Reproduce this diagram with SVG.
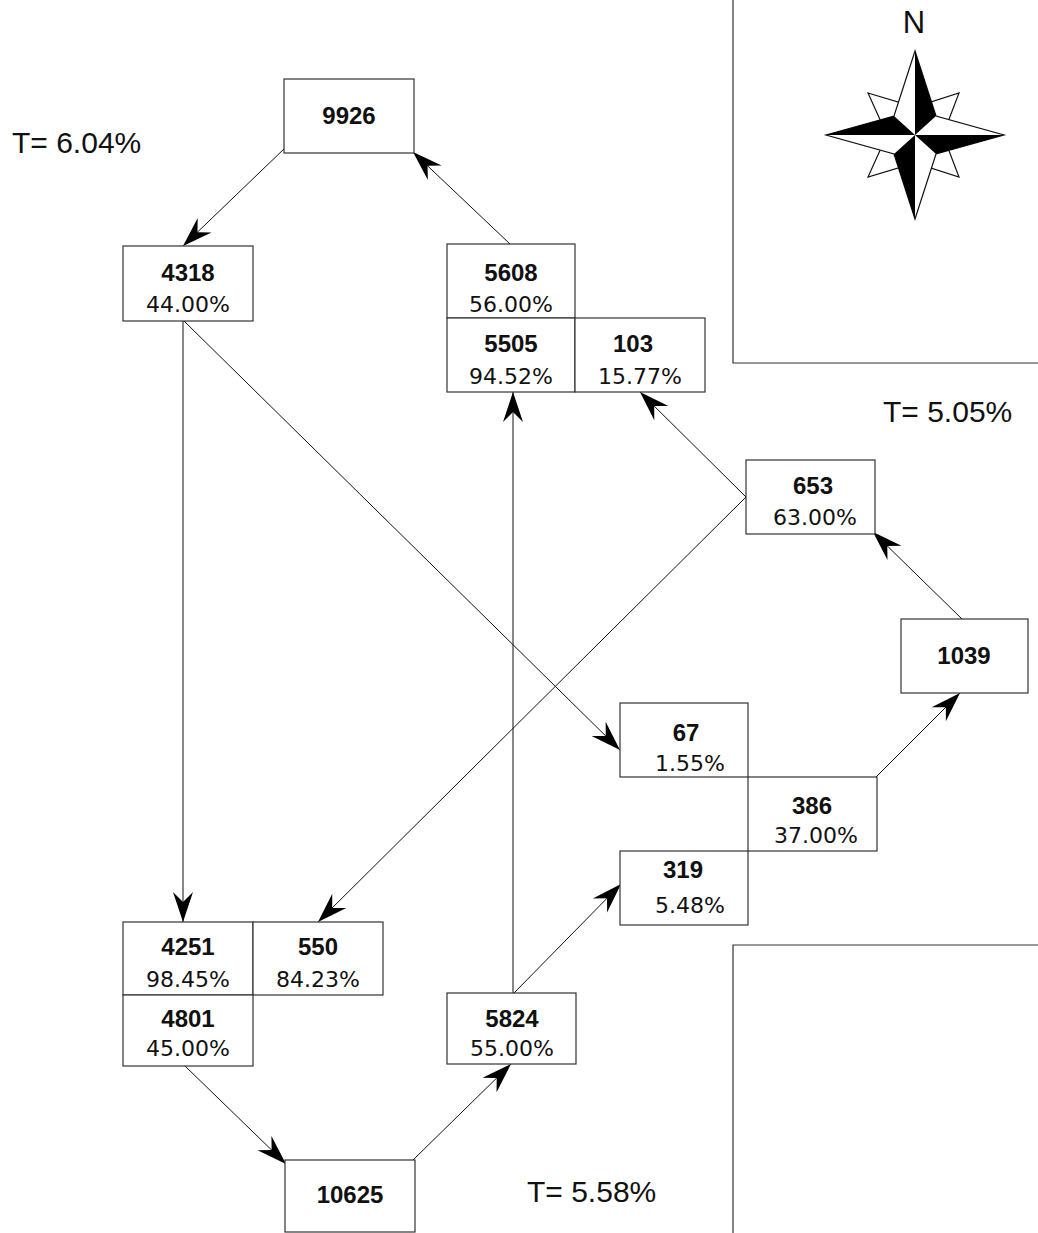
<svg xmlns="http://www.w3.org/2000/svg" width="1038" height="1233" viewBox="0 0 1038 1233">
<style>
.box{fill:#fff;stroke:#333;stroke-width:1.2}
.num{font-family:"Liberation Sans",Arial,sans-serif;font-weight:bold;font-size:24px;text-anchor:middle;fill:#111}
.pct{font-family:"DejaVu Sans",sans-serif;font-size:22px;text-anchor:middle;fill:#111}
.t{font-family:"Liberation Sans",Arial,sans-serif;font-size:30px;fill:#111}
.c{stroke:#111;stroke-width:1;fill:none;marker-end:url(#a)}
.frame{stroke:#333;stroke-width:1.2;fill:none}
</style>
<defs>
<marker id="a" markerWidth="32" markerHeight="24" refX="0" refY="0" orient="auto" markerUnits="userSpaceOnUse" viewBox="-31 -12 32 24">
<path d="M0,0 L-30,-10 L-20,0 L-30,10 Z" fill="#000"/>
</marker>
</defs>
<rect width="1038" height="1233" fill="#fff"/>
<g id="frames">
<path class="frame" d="M733,0 V363 H1038"/>
<path class="frame" d="M733,1233 V945 H1038"/>
</g>
<g id="labels">
<text class="t" x="12" y="153">T= 6.04%</text>
<text class="t" x="883" y="422">T= 5.05%</text>
<text class="t" x="527" y="1202">T= 5.58%</text>
</g>
<g id="compass">
<text x="914" y="33" font-family="Liberation Sans,sans-serif" font-size="31" text-anchor="middle" fill="#111">N</text>
<polygon points="868,93 915,107 959,93 943,135 959,177 915,163 868,177 887,135" fill="#fff" stroke="#111" stroke-width="1.2" stroke-linejoin="miter"/>
<polygon points="915,51 936,116 1004,135 936,154 915,219 894,154 826,135 894,116" fill="#fff" stroke="#111" stroke-width="1.2"/>
<polygon points="915,51 915,135 936,116" fill="#000"/>
<polygon points="1004,135 915,135 936,154" fill="#000"/>
<polygon points="826,135 915,135 894,116" fill="#000"/>
<polygon points="915,219 915,135 894,154" fill="#000"/>
</g>
<g id="connectors">
<line class="c" x1="285" y1="148" x2="183" y2="246"/>
<line class="c" x1="510" y1="244" x2="413" y2="152"/>
<line class="c" x1="183" y1="321" x2="183" y2="922"/>
<line class="c" x1="184" y1="321" x2="620" y2="750"/>
<line class="c" x1="746" y1="497" x2="640" y2="392"/>
<line class="c" x1="746" y1="497" x2="318" y2="922"/>
<line class="c" x1="962" y1="619" x2="873" y2="532"/>
<line class="c" x1="876" y1="777" x2="960" y2="693"/>
<line class="c" x1="513" y1="993" x2="513" y2="392"/>
<line class="c" x1="514" y1="993" x2="621" y2="884"/>
<line class="c" x1="185" y1="1066" x2="286" y2="1164"/>
<line class="c" x1="413" y1="1160" x2="511" y2="1064"/>
</g>
<g id="n9926"><rect class="box" x="284" y="79" width="130" height="74"/><text class="num" x="349" y="124">9926</text></g>
<g id="n4318"><rect class="box" x="123" y="246" width="130" height="75"/><text class="num" x="188" y="281">4318</text><text class="pct" x="188" y="312">44.00%</text></g>
<g id="n5608"><rect class="box" x="447" y="244" width="128" height="74"/><text class="num" x="511" y="281">5608</text><text class="pct" x="511" y="312">56.00%</text></g>
<g id="n5505"><rect class="box" x="447" y="318" width="128" height="74"/><text class="num" x="511" y="352">5505</text><text class="pct" x="511" y="384">94.52%</text></g>
<g id="n103"><rect class="box" x="575" y="318" width="130" height="74"/><text class="num" x="633" y="352">103</text><text class="pct" x="640" y="384">15.77%</text></g>
<g id="n653"><rect class="box" x="746" y="460" width="129" height="74"/><text class="num" x="813" y="494">653</text><text class="pct" x="815" y="525">63.00%</text></g>
<g id="n1039"><rect class="box" x="901" y="619" width="127" height="74"/><text class="num" x="964" y="664">1039</text></g>
<g id="n67"><rect class="box" x="620" y="703" width="128" height="74"/><text class="num" x="686" y="741">67</text><text class="pct" x="690" y="771">1.55%</text></g>
<g id="n386"><rect class="box" x="748" y="777" width="129" height="74"/><text class="num" x="812" y="814">386</text><text class="pct" x="816" y="843">37.00%</text></g>
<g id="n319"><rect class="box" x="620" y="851" width="128" height="74"/><text class="num" x="683" y="878">319</text><text class="pct" x="690" y="913">5.48%</text></g>
<g id="n4251"><rect class="box" x="123" y="922" width="130" height="73"/><text class="num" x="188" y="955">4251</text><text class="pct" x="188" y="987">98.45%</text></g>
<g id="n550"><rect class="box" x="253" y="922" width="130" height="73"/><text class="num" x="318" y="955">550</text><text class="pct" x="318" y="987">84.23%</text></g>
<g id="n4801"><rect class="box" x="123" y="995" width="130" height="71"/><text class="num" x="188" y="1027">4801</text><text class="pct" x="188" y="1056">45.00%</text></g>
<g id="n5824"><rect class="box" x="447" y="993" width="129" height="71"/><text class="num" x="512" y="1027">5824</text><text class="pct" x="512" y="1056">55.00%</text></g>
<g id="n10625"><rect class="box" x="285" y="1160" width="130" height="72"/><text class="num" x="350" y="1203">10625</text></g>
</svg>
